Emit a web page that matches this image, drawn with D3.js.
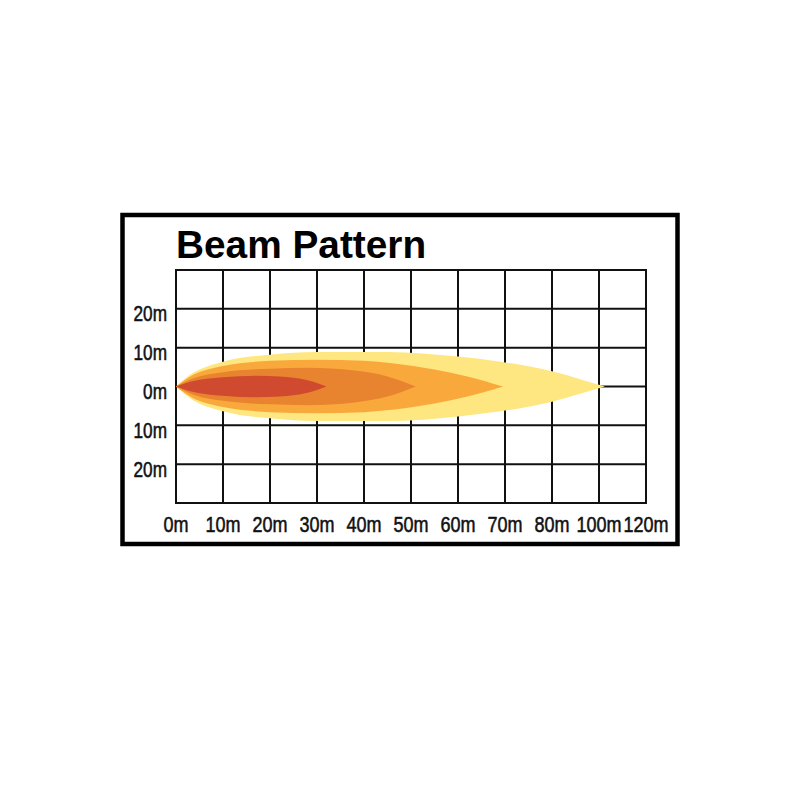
<!DOCTYPE html>
<html lang="en">
<head>
<meta charset="UTF-8">
<title>Beam Pattern</title>
<script src="https://d3js.org/d3.v7.min.js"></script>
<style>
  body { margin: 0; background: #fff; }
  .tick-label { font-family: "Liberation Sans", Arial, sans-serif; fill: #111; stroke: #111; stroke-width: 0.55; }
  .title { font-family: "Liberation Sans", Arial, sans-serif; font-weight: bold; fill: #000; }
</style>
</head>
<body>
<div id="chart"></div>
<script>
    // distance ticks along the beam (m) - note the uneven 80 -> 100 -> 120 steps
    const xTicks = [0, 10, 20, 30, 40, 50, 60, 70, 80, 100, 120];
    // lateral grid lines (m), labels shown without sign
    const yLines = [30, 20, 10, 0, -10, -20, -30];
    const yTicks = [20, 10, 0, -10, -20];

    // beam zones: upper edge profile [distance m, half width m], mirrored below the axis
    const yellowZone = [[0, 0], [3, 3.0], [10, 6.4], [20, 8.2], [30, 8.9], [45, 8.9], [60, 7.7], [69, 6.4], [80, 3.9], [93, 1.7], [102.5, 0]];
    const orangeZone = [[0, 0], [3, 2.6], [10, 5.3], [20, 6.6], [30, 6.9], [40, 6.6], [46, 6.0], [55, 4.4], [62, 2.6], [69.6, 0]];
    const darkZone   = [[0, 0], [3, 1.8], [10, 3.7], [20, 4.6], [28, 4.8], [38, 4.1], [45, 2.6], [51, 0]];
    const redZone    = [[0, 0], [3, 1.2], [10, 2.4], [17, 2.8], [22, 2.6], [28, 1.6], [32, 0]];

    const zones = [
        { name: "far", pts: yellowZone, color: "#fee781" },
        { name: "mid", pts: orangeZone, color: "#f9a93c" },
        { name: "near", pts: darkZone, color: "#e8832f" },
        { name: "hot", pts: redZone, color: "#cf4a2e" }
    ];

    const width = 800, height = 800;
    const gridLeft = 176, gridRight = 646, gridTop = 270, gridBottom = 503;

    const svg = d3.select("#chart").append("svg")
        .attr("width", width)
        .attr("height", height);

    // even column spacing even though the labels jump by 20 at the end
    const col = d3.scaleLinear().domain([0, xTicks.length - 1]).range([gridLeft, gridRight]);
    const x = d3.scaleLinear().domain(xTicks).range(xTicks.map((d, i) => col(i)));
    const y = d3.scaleLinear().domain([-30, 30]).range([gridBottom, gridTop]);

    // outer frame
    svg.append("rect")
        .attr("x", 122.5).attr("y", 215)
        .attr("width", 555).attr("height", 329)
        .attr("fill", "none")
        .attr("stroke", "#000")
        .attr("stroke-width", 4.5);

    svg.append("text")
        .attr("class", "title")
        .attr("x", 176).attr("y", 258)
        .attr("font-size", 38.8)
        .text("Beam Pattern");

    // grid
    const grid = svg.append("g").attr("stroke", "#111").attr("stroke-width", 2);
    grid.selectAll(".v").data(xTicks).enter().append("line")
        .attr("x1", d => x(d)).attr("x2", d => x(d))
        .attr("y1", gridTop).attr("y2", gridBottom);
    grid.selectAll(".h").data(yLines).enter().append("line")
        .attr("x1", gridLeft - 1).attr("x2", gridRight + 1)
        .attr("y1", d => y(d)).attr("y2", d => y(d));

    // beam zones
    const area = d3.area()
        .x(d => x(d[0]))
        .y0(d => y(-d[1]))
        .y1(d => y(d[1]))
        .curve(d3.curveMonotoneX);

    svg.append("g").selectAll("path")
        .data(zones)
        .enter().append("path")
        .attr("d", d => area(d.pts))
        .attr("fill", d => d.color);

    // axis labels, squeezed horizontally to look like a narrow face
    const squeeze = 0.8;

    svg.append("g").selectAll("text")
        .data(xTicks)
        .enter().append("text")
        .attr("class", "tick-label")
        .attr("transform", d => `translate(${x(d)},532) scale(${squeeze},1)`)
        .attr("text-anchor", "middle")
        .attr("font-size", 22.5)
        .text(d => d + "m");

    svg.append("g").selectAll("text")
        .data(yTicks)
        .enter().append("text")
        .attr("class", "tick-label")
        .attr("transform", d => `translate(167,${y(d) + 12.5}) scale(${squeeze},1)`)
        .attr("text-anchor", "end")
        .attr("font-size", 21.5)
        .text(d => Math.abs(d) + "m");
</script>
</body>
</html>
